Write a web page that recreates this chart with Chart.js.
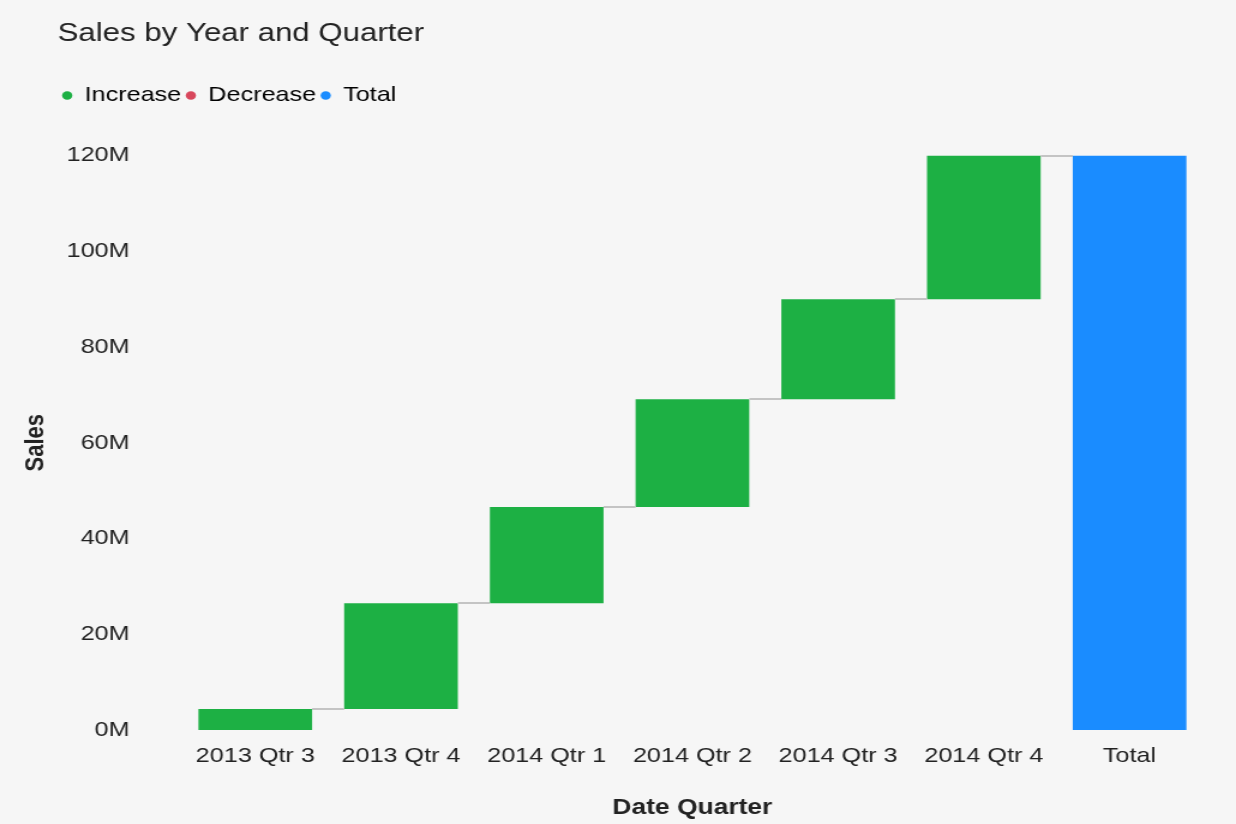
<!DOCTYPE html>
<html>
<head>
<meta charset="utf-8">
<title>Sales by Year and Quarter</title>
<script src="https://cdn.jsdelivr.net/npm/chart.js@4.4.1/dist/chart.umd.min.js"></script>
<style>
  html, body { margin: 0; padding: 0; background: #f6f6f6; overflow: hidden; }
  /* the source picture is stretched horizontally, so is this */
  #wrap { width: 1030px; height: 824px; transform: scaleX(1.2); transform-origin: 0 0; }
</style>
</head>
<body>
<div id="wrap"><canvas id="salesChart"></canvas></div>
<script>
const categories = ['2013 Qtr 3', '2013 Qtr 4', '2014 Qtr 1', '2014 Qtr 2', '2014 Qtr 3', '2014 Qtr 4', 'Total'];
// quarterly change in sales, millions
const changes = [4.4, 22.1, 20.1, 22.5, 20.9, 30.0];
const yTicks = [0, 20, 40, 60, 80, 100, 120];
const legendNames = ['Increase', 'Decrease', 'Total'];
const legendColors = ['#1db044', '#d8475c', '#1a8cff'];

const FONT = "'Liberation Sans', Arial, sans-serif";
const TEXT = '#222';

// build waterfall ranges
let running = 0;
const ranges = [];
const barColors = [];
const ends = [];
changes.forEach(c => {
  ranges.push([running, running + c]);
  barColors.push(c >= 0 ? legendColors[0] : legendColors[1]);
  running += c;
  ends.push(running);
});
ranges.push([0, running]);
barColors.push(legendColors[2]);
ends.push(running);

// thin grey steps between neighbouring bars
const connectors = {
  id: 'connectors',
  afterDatasetsDraw(chart) {
    const meta = chart.getDatasetMeta(0);
    const y = chart.scales.y;
    const ctx = chart.ctx;
    ctx.save();
    ctx.strokeStyle = '#c4c4c4';
    ctx.lineWidth = 2;
    for (let i = 0; i < meta.data.length - 1; i++) {
      const a = meta.data[i], b = meta.data[i + 1];
      const py = Math.round(y.getPixelForValue(ends[i]));
      ctx.beginPath();
      ctx.moveTo(a.x + a.width / 2, py);
      ctx.lineTo(b.x - b.width / 2, py);
      ctx.stroke();
    }
    ctx.restore();
  }
};

// empty box between legend and plot
const legendGap = {
  id: 'legendGap',
  beforeInit(chart) {
    Chart.layouts.addBox(chart, {
      position: 'top',
      weight: 500,
      fullSize: true,
      options: {},
      update(w) { this.width = w; this.height = 39.5; },
      isHorizontal: () => true,
      draw() {}
    });
  }
};

new Chart(document.getElementById('salesChart'), {
  type: 'bar',
  data: {
    labels: categories,
    datasets: [{
      label: 'Sales',
      data: ranges,
      backgroundColor: barColors,
      borderWidth: 0,
      borderSkipped: false,
      barPercentage: 0.78,
      categoryPercentage: 1.0
    }]
  },
  options: {
    responsive: true,
    maintainAspectRatio: false,
    animation: false,
    layout: { padding: { left: 48, right: 28, top: 0, bottom: 0 } },
    plugins: {
      tooltip: { enabled: false },
      title: {
        display: true,
        text: 'Sales by Year and Quarter',
        align: 'start',
        color: TEXT,
        font: { family: FONT, size: 26, weight: 'normal' },
        padding: { top: 18, bottom: 31.8 }
      },
      legend: {
        display: true,
        position: 'top',
        align: 'start',
        labels: {
          color: TEXT,
          font: { family: FONT, size: 21 },
          usePointStyle: true,
          boxWidth: 8,
          boxHeight: 6,
          padding: 4,
          generateLabels: () => legendNames.map((n, i) => ({
            text: n,
            fillStyle: legendColors[i],
            strokeStyle: legendColors[i],
            lineWidth: 0,
            pointStyle: 'circle',
            hidden: false,
            datasetIndex: 0
          }))
        }
      }
    },
    scales: {
      x: {
        grid: { display: false, drawTicks: false },
        border: { display: false },
        ticks: { color: TEXT, font: { family: FONT, size: 21 }, padding: 14, maxRotation: 0, autoSkip: false },
        title: { display: true, text: 'Date Quarter', color: TEXT, font: { family: FONT, size: 22, weight: 'bold' }, padding: { top: 0, bottom: 3 } },
        afterFit: s => { s.height = 94; }
      },
      y: {
        min: 0,
        max: 120,
        grid: { display: false, drawTicks: false },
        border: { display: false },
        afterBuildTicks: s => { s.ticks = yTicks.map(v => ({ value: v })); },
        ticks: { color: TEXT, font: { family: FONT, size: 21 }, padding: 44, callback: v => v + 'M' },
        title: { display: true, text: 'Sales', color: TEXT, font: { family: FONT, size: 22, weight: 'bold' }, padding: { top: -31, bottom: 0 } },
        afterFit: s => { s.width = 104; }
      }
    }
  },
  plugins: [connectors, legendGap]
});
</script>
</body>
</html>
